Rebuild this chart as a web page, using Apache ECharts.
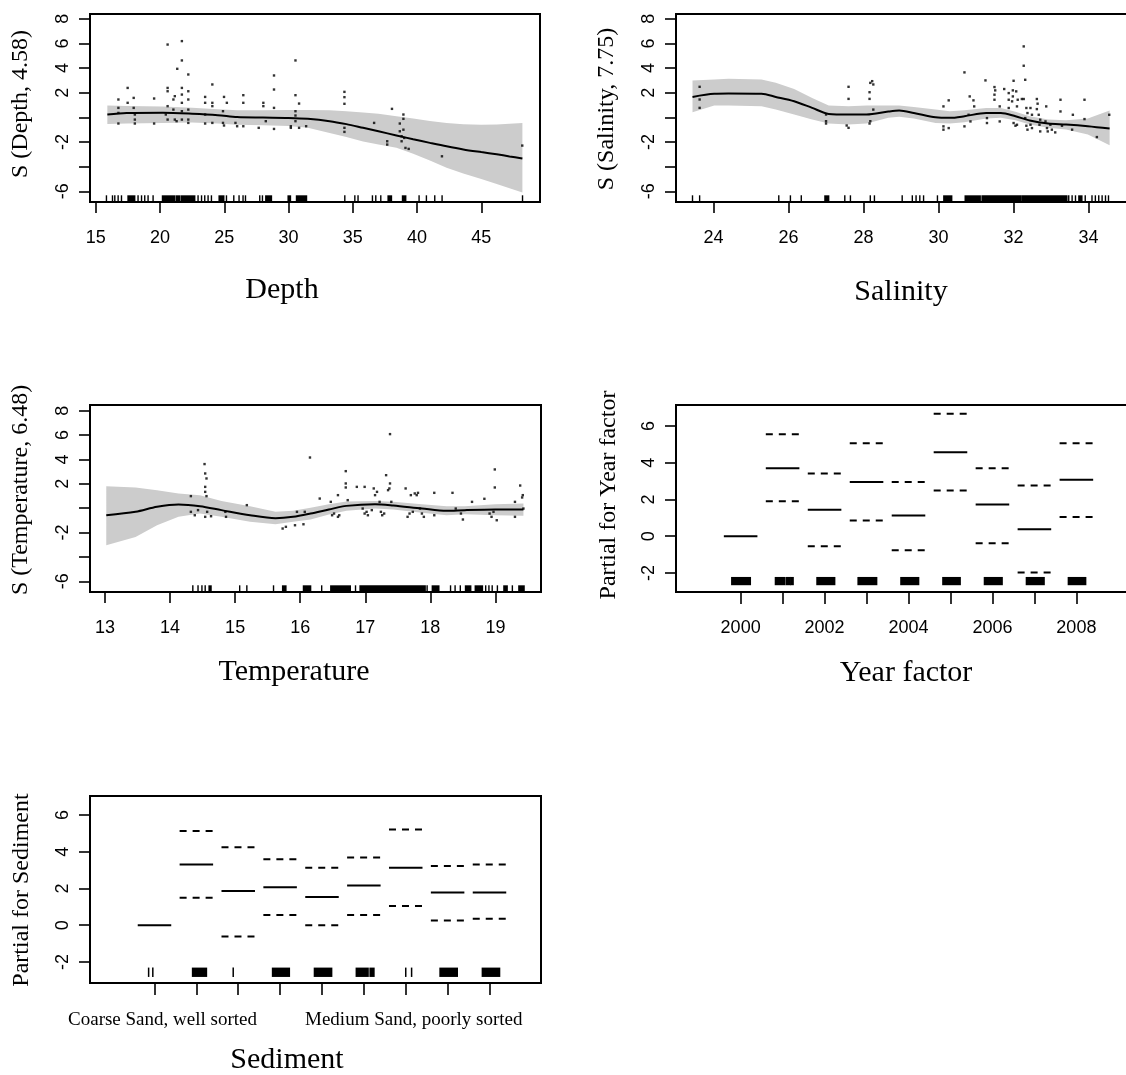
<!DOCTYPE html>
<html><head><meta charset="utf-8">
<script src="https://cdn.jsdelivr.net/npm/echarts@6/dist/echarts.min.js"></script>
<style>html,body{margin:0;padding:0;background:#fff}#c{width:1126px;height:1075px}</style>
</head><body><div id="c"></div>
<script>
// ---------------- DATA ----------------
// Depth smooth
const depthX   = [15.9, 17.4, 20.2, 22.5, 24.5, 26.0, 28.0, 30.0, 31.5, 33.2, 34.5, 35.8, 37.0, 38.4, 39.7, 41.0, 42.3, 43.6, 45.0, 46.2, 47.2, 48.2];
const depthFit = [0.23, 0.36, 0.38, 0.30, 0.18, 0.02, -0.02, -0.05, -0.12, -0.31, -0.55, -0.85, -1.13, -1.47, -1.78, -2.07, -2.35, -2.6, -2.82, -3.0, -3.17, -3.34];
const depthHi  = [0.96, 0.92, 0.88, 0.78, 0.65, 0.58, 0.58, 0.6, 0.6, 0.58, 0.5, 0.4, 0.3, 0.1, -0.1, -0.3, -0.45, -0.55, -0.6, -0.58, -0.52, -0.45];
const depthLo  = [-0.53, -0.5, -0.45, -0.42, -0.5, -0.6, -0.65, -0.7, -0.85, -1.26, -1.6, -1.95, -2.2, -2.47, -2.95, -3.5, -4.1, -4.55, -5.0, -5.4, -5.75, -6.1];
const depthPoints = [[16.76,1.45],[16.76,0.77],[16.76,0.36],[16.76,-0.5],[17.48,2.39],[17.48,1.18],[17.95,1.58],[17.95,0.77],[18.04,0.23],[18.04,-0.18],[18.04,-0.5],
 [19.54,1.53],[19.54,-0.5],[20.59,5.91],[20.59,2.39],[20.59,2.12],[20.59,0.91],[20.45,0.23],[20.59,-0.18],
 [21.04,1.45],[21.15,1.72],[21.04,0.63],[21.15,-0.18],[21.29,-0.31],[21.70,6.19],[21.70,4.62],[21.70,2.39],[21.70,1.85],[21.70,1.18],[21.70,0.50],[21.70,-0.18],
 [21.34,3.94],[22.20,3.48],[22.20,2.12],[22.20,1.45],[22.20,0.63],[22.20,-0.18],[22.20,-0.45],
 [23.51,1.66],[23.51,1.18],[23.51,0.23],[23.51,-0.5],[24.07,2.67],[24.07,1.18],[24.07,0.91],[24.07,-0.45],
 [24.98,1.66],[24.9,0.5],[24.9,-0.45],[24.98,-0.66],[25.2,1.18],[25.87,-0.45],[26.0,-0.72],
 [26.48,1.8],[26.48,1.18],[26.48,-0.72],[27.68,-0.85],[28.04,1.18],[28.04,0.91],[28.23,-0.31],
 [28.87,3.40],[28.87,2.26],[28.87,0.77],[28.87,-0.94],[30.54,4.62],[30.54,1.8],[30.54,0.5],[30.54,0.15],[30.54,-0.31],[30.18,-0.72],[30.18,-0.85],
 [30.82,1.12],[30.82,-0.85],[31.37,-0.72],[34.35,2.07],[34.35,1.64],[34.35,1.10],[34.35,-0.85],[34.35,-1.18],
 [36.66,-0.45],[38.05,0.69],[37.68,-1.94],[37.68,-2.21],[38.66,-0.5],[38.66,-1.13],[38.8,-1.53],[38.8,-1.94],
 [38.94,0.23],[38.94,-0.12],[38.94,-1.0],[39.0,-1.67],[39.1,-2.48],[39.35,-2.56],[41.94,-3.16],[48.19,-2.29]];
const depthRug = [[15.83,15.83],[16.30,16.30],[16.48,16.48],[16.74,16.74],[17.0,17.0],[17.51,18.03],[18.29,18.29],[18.56,18.56],[18.81,18.81],[19.07,19.07],[19.46,19.46],[20.19,21.15],[21.28,21.54],[21.67,22.70],[22.96,22.96],[23.23,23.23],[23.48,23.48],[23.74,23.74],[24.0,24.0],[24.6,24.96],[25.17,25.17],[25.74,25.74],[26.15,26.15],[26.46,26.46],[26.65,26.65],[27.76,27.76],[27.97,27.97],[28.23,28.67],[29.97,30.15],[30.62,31.4],[34.38,34.38],[35.16,35.16],[35.41,35.41],[36.53,36.53],[36.79,36.79],[37.18,37.18],[37.75,38.01],[38.87,39.12],[40.16,40.16],[40.73,40.73],[41.38,41.38],[41.95,41.95],[48.21,48.21]];

// Salinity smooth
const salX   = [23.44, 24.02, 24.4, 25.28, 25.66, 26.15, 26.63, 27.07, 27.6, 28.08, 28.66, 28.95, 29.34, 29.92, 30.3, 30.69, 31.27, 31.66, 32.05, 32.43, 32.92, 33.4, 33.98, 34.56];
const salFit = [1.66, 1.91, 1.93, 1.91, 1.66, 1.31, 0.77, 0.28, 0.23, 0.23, 0.47, 0.55, 0.36, 0.01, -0.04, 0.09, 0.36, 0.36, 0.09, -0.26, -0.5, -0.58, -0.72, -0.91];
const salHi  = [2.99, 3.07, 3.13, 3.07, 2.80, 2.31, 1.58, 0.96, 0.91, 0.96, 0.96, 0.96, 0.85, 0.63, 0.50, 0.58, 0.77, 0.77, 0.45, 0.09, -0.18, -0.23, -0.1, 0.55];
const salLo  = [0.42, 0.96, 0.96, 0.91, 0.63, 0.23, -0.18, -0.5, -0.58, -0.5, -0.04, 0.04, -0.1, -0.45, -0.5, -0.39, -0.1, -0.04, -0.23, -0.58, -0.85, -0.99, -1.4, -2.26];
const salPoints = [[23.63,2.48],[23.63,1.45],[23.63,0.77],[27.0,0.23],[27.0,-0.31],[27.0,-0.5],
 [27.6,2.48],[27.6,1.5],[27.55,-0.66],[27.6,-0.85],[28.16,2.04],[28.16,1.5],[28.18,2.8],[28.23,2.94],[28.26,2.67],[28.18,-0.31],[28.16,-0.5],[28.26,0.63],
 [30.13,0.89],[30.27,1.38],[30.13,-0.73],[30.13,-1.0],[30.27,-0.87],[30.69,3.65],[30.69,-0.73],[30.80,0.21],[30.83,1.70],[30.93,1.38],[30.95,0.89],[30.85,-0.33],
 [31.25,3.0],[31.29,-0.06],[31.29,-0.46],[31.49,2.46],[31.51,2.19],[31.49,1.84],[31.49,1.43],[31.63,0.89],[31.63,-0.33],
 [31.75,2.30],[31.87,1.97],[31.87,1.43],[31.87,0.76],[32.0,2.97],[31.98,2.19],[31.98,1.70],[31.96,1.30],
 [32.07,2.11],[32.11,1.43],[32.09,0.89],[32.0,-0.46],[32.09,-0.60],[32.05,-0.68],
 [32.27,5.76],[32.27,4.19],[32.31,3.05],[32.22,1.49],[32.27,1.49],[32.34,0.76],[32.37,0.35],[32.31,-0.06],[32.34,-0.68],[32.37,-1.0],
 [32.45,0.76],[32.49,0.21],[32.45,-0.60],[32.49,-0.87],[32.62,1.49],[32.64,1.11],[32.62,0.67],[32.67,0.21],[32.71,-0.19],[32.69,-0.60],[32.71,-1.14],
 [32.87,0.89],[32.85,-0.33],[32.89,-0.87],[32.91,-1.14],[32.98,-0.60],[33.02,-1.0],[33.11,-1.22],
 [33.25,1.43],[33.25,0.48],[33.29,-0.68],[33.58,0.21],[33.56,-1.0],[33.89,1.43],[33.89,-0.14],[34.22,-1.60],[34.55,0.21]];
const salRug = [[23.44,23.44],[23.63,23.63],[25.74,25.74],[26.05,26.05],[26.34,26.34],[26.97,27.07],[27.5,27.5],[27.65,27.65],[28.18,28.18],[28.29,28.29],[29.03,29.03],[29.3,29.3],[29.4,29.4],[29.5,29.5],[29.6,29.6],[29.97,29.97],[30.14,30.35],[30.71,31.11],[31.16,32.18],[32.22,33.42],[33.47,33.47],[33.56,33.56],[33.65,33.65],[33.74,33.82],[33.91,33.91],[34.09,34.09],[34.18,34.18],[34.27,34.27],[34.36,34.36],[34.45,34.45],[34.53,34.53]];

// Temperature smooth
const tempX   = [13.02, 13.47, 13.8, 14.13, 14.46, 14.79, 15.23, 15.62, 15.89, 16.16, 16.44, 16.71, 17.15, 17.43, 17.87, 18.25, 18.53, 19.0, 19.43];
const tempFit = [-0.58, -0.30, 0.11, 0.30, 0.16, -0.16, -0.58, -0.82, -0.71, -0.44, -0.11, 0.19, 0.33, 0.22, -0.03, -0.22, -0.16, -0.11, -0.11];
const tempHi  = [1.81, 1.70, 1.48, 1.21, 1.07, 0.60, 0.16, -0.30, -0.22, 0.03, 0.33, 0.55, 0.58, 0.52, 0.33, 0.16, 0.16, 0.33, 0.38];
const tempLo  = [-3.04, -2.36, -1.40, -0.71, -0.44, -0.71, -1.12, -1.32, -1.12, -0.93, -0.52, -0.22, -0.03, -0.11, -0.38, -0.58, -0.49, -0.58, -0.63];
const tempPoints = [[14.32,0.99],[14.32,-0.30],[14.38,-0.58],[14.43,-0.16],[14.53,3.62],[14.54,2.85],[14.56,2.44],[14.54,1.75],[14.54,1.34],[14.56,0.99],
 [14.57,-0.30],[14.63,-0.66],[14.54,-0.71],[14.85,-0.30],[14.86,-0.71],[15.18,0.25],
 [15.73,-1.67],[15.78,-1.53],[15.92,-1.40],[15.95,-0.30],[16.05,-1.32],[16.07,-0.30],[16.15,4.16],[16.30,0.79],
 [16.47,0.52],[16.49,-0.58],[16.52,-0.44],[16.58,1.07],[16.58,-0.71],[16.60,-0.58],[16.70,3.04],[16.70,2.03],[16.70,1.70],[16.73,0.66],
 [16.87,1.75],[16.99,1.75],[16.96,-0.03],[16.99,-0.44],[17.02,-0.30],[17.04,-0.58],[17.10,-0.16],
 [17.13,1.62],[17.15,1.07],[17.18,1.34],[17.22,0.52],[17.24,-0.30],[17.26,-0.58],[17.29,-0.44],
 [17.32,2.71],[17.35,1.48],[17.37,1.62],[17.38,2.03],[17.38,6.08],[17.40,0.52],
 [17.62,1.62],[17.65,-0.71],[17.68,-0.44],[17.70,1.07],[17.73,-0.30],[17.76,1.21],[17.79,1.07],[17.81,1.26],[17.84,-0.03],[17.87,-0.44],[17.90,-0.71],
 [18.06,1.26],[18.06,-0.58],[18.34,1.26],[18.39,-0.03],[18.47,-0.44],[18.50,-0.93],[18.64,0.52],[18.83,0.77],
 [18.91,-0.44],[18.94,-0.71],[18.97,-0.30],[19.02,-0.99],[18.99,3.18],[18.99,1.70],
 [19.30,0.52],[19.38,1.86],[19.41,0.88],[19.42,1.07],[19.43,-0.03],[19.30,-0.71]];
const tempRug = [[14.35,14.35],[14.43,14.43],[14.49,14.49],[14.54,14.54],[14.6,14.63],[15.07,15.07],[15.18,15.18],[15.59,15.59],[15.73,15.78],[16.05,16.16],[16.33,16.33],[16.47,16.77],[16.85,16.85],[16.92,17.92],[17.95,17.95],[18.03,18.13],[18.31,18.31],[18.38,18.38],[18.46,18.46],[18.54,18.62],[18.69,18.80],[18.85,18.85],[18.90,18.90],[18.95,18.95],[19.03,19.03],[19.13,19.18],[19.26,19.26],[19.36,19.44]];

// Year factor
const years     = [2000, 2001, 2002, 2003, 2004, 2005, 2006, 2007, 2008];
const yearFit   = [0, 3.71, 1.44, 2.96, 1.13, 4.58, 1.73, 0.38, 3.07];
const yearUpper = [null, 5.55, 3.42, 5.07, 2.95, 6.67, 3.71, 2.76, 5.07];
const yearLower = [null, 1.91, -0.55, 0.85, -0.76, 2.49, -0.38, -1.98, 1.05];
const yearRug   = [[1999.79,2000.23],[2000.83,2001.05],[2001.09,2001.18],[2001.2,2001.25],[2001.82,2002.24],[2002.8,2003.24],[2003.82,2004.24],[2004.82,2005.23],[2005.81,2006.23],[2006.81,2007.23],[2007.81,2008.22]];

// Sediment factor (level names not legible in the picture are left blank)
const sedimentLevels = ['Coarse Sand, well sorted', '', '', '', '', '', 'Medium Sand, poorly sorted', '', ''];
const sedFit   = [0, 3.31, 1.87, 2.07, 1.53, 2.16, 3.13, 1.78, 1.78];
const sedUpper = [null, 5.13, 4.25, 3.6, 3.13, 3.69, 5.22, 3.22, 3.31];
const sedLower = [null, 1.49, -0.62, 0.56, 0, 0.56, 1.04, 0.25, 0.35];
const sedRug   = [[0.86,0.86],[0.96,0.96],[1.91,2.24],[2.88,2.88],[3.82,4.22],[4.82,5.23],[5.82,6.1],[6.15,6.24],[7.0,7.0],[7.14,7.14],[7.82,8.23],[8.83,9.24]];

// Tick labels
const depthTicks = [15, 20, 25, 30, 35, 40, 45];
const salTicks   = [24, 26, 28, 30, 32, 34];
const tempTicks  = [13, 14, 15, 16, 17, 18, 19];
const yearLabels = [2000, 2002, 2004, 2006, 2008];
const sedLabelLevels = [1, 7];
const smoothYTicks  = [-6, -4, -2, 0, 2, 4, 6, 8];
const smoothYLabels = [-6, -2, 2, 4, 6, 8];
const factorYTicks  = [-2, 0, 2, 4, 6];

// ---------------- LAYOUT ----------------
const SANS = 'Liberation Sans, Arial, sans-serif';
const SERIF = 'Liberation Serif, Times New Roman, serif';
const panels = [
  {grid:{left:90, top:14, width:450, height:188}, x:[14.55,49.57], y:[-6.87,8.39]},
  {grid:{left:676, top:14, width:452, height:188}, x:[23.0,35.05], y:[-6.87,8.39]},
  {grid:{left:90, top:405, width:451, height:187}, x:[12.77,19.70], y:[-6.88,8.47]},
  {grid:{left:676, top:405, width:452, height:187}, x:[1998.46,2009.23], y:[-3.04,7.15]},
  {grid:{left:90, top:796, width:451, height:187}, x:[-0.54,10.23], y:[-3.15,7.04]}
];
const xTickVals = [depthTicks, salTicks, tempTicks, years, years.map((y,i)=>i+1)];
const xLabelVals = [depthTicks, salTicks, tempTicks, yearLabels, sedLabelLevels];
const yTickVals = [smoothYTicks, smoothYTicks, smoothYTicks, factorYTicks, factorYTicks];
const yLabelVals = [smoothYLabels, smoothYLabels, smoothYLabels, factorYTicks, factorYTicks];

const grids = panels.map(p => Object.assign({show:true, borderColor:'#000', borderWidth:2, backgroundColor:'transparent', outerBoundsMode:'none', containLabel:false}, p.grid));

const xAxes = panels.map((p,i) => ({
  type:'value', gridIndex:i, min:p.x[0], max:p.x[1],
  axisLine:{show:true, onZero:false, lineStyle:{color:'#000', width:2}},
  axisTick:{show:true, inside:false, length: i >= 3 ? 12 : 11, customValues:xTickVals[i], lineStyle:{color:'#000', width:1.6}},
  axisLabel:{show:true, customValues:xLabelVals[i], margin: i===4 ? 28 : 27,
    color:'#000', fontSize: i===4 ? 19 : 18, fontFamily: i===4 ? SERIF : SANS,
    padding: i===4 ? [0,0,0,16] : 0,
    formatter: i===4 ? (v => sedimentLevels[Math.round(v)-1]) : (v => String(v))},
  splitLine:{show:false}
}));
const yAxes = panels.map((p,i) => ({
  type:'value', gridIndex:i, min:p.y[0], max:p.y[1],
  axisLine:{show:true, onZero:false, lineStyle:{color:'#000', width:2}},
  axisTick:{show:true, inside:false, length:11, customValues:yTickVals[i], lineStyle:{color:'#000', width:1.6}},
  axisLabel:{show:true, customValues:yLabelVals[i], rotate:90, margin:18, color:'#000', fontSize:18, fontFamily:SANS,
    formatter: v => String(v)},
  splitLine:{show:false}
}));

// ---------------- SERIES BUILDERS ----------------
function bandSeries(idx, xs, lo, hi) {
  return {type:'custom', xAxisIndex:idx, yAxisIndex:idx, data:[[xs[0], lo[0]]], silent:true, animation:false, z:1,
    renderItem: function(params, api) {
      const pts = [];
      for (let i = 0; i < xs.length; i++) pts.push(api.coord([xs[i], hi[i]]));
      for (let i = xs.length - 1; i >= 0; i--) pts.push(api.coord([xs[i], lo[i]]));
      return {type:'polygon', shape:{points:pts}, style:{fill:'#cccccc'}};
    }};
}
function fitSeries(idx, xs, ys) {
  return {type:'line', xAxisIndex:idx, yAxisIndex:idx, data:xs.map((x,i)=>[x, ys[i]]), showSymbol:false, smooth:0.3,
    lineStyle:{color:'#000', width:2}, silent:true, animation:false, z:3};
}
function pointSeries(idx, pts) {
  return {type:'scatter', xAxisIndex:idx, yAxisIndex:idx, data:pts, symbol:'rect', symbolSize:2.4,
    itemStyle:{color:'#000'}, silent:true, animation:false, z:4};
}
function rugSeries(idx, ranges, yMin) {
  return {type:'custom', xAxisIndex:idx, yAxisIndex:idx, data:ranges, silent:true, animation:false, z:4,
    renderItem: function(params, api) {
      const a = api.coord([api.value(0), yMin]);
      const b = api.coord([api.value(1), yMin]);
      const w = Math.max(1.4, b[0] - a[0] + 1.4);
      return {type:'rect', shape:{x:a[0]-0.7, y:a[1]-6.7, width:w, height:6.7}, style:{fill:'#000'}};
    }};
}
function factorRugSeries(idx, ranges, yLo, yHi) {
  return {type:'custom', xAxisIndex:idx, yAxisIndex:idx, data:ranges, silent:true, animation:false, z:4,
    renderItem: function(params, api) {
      const a = api.coord([api.value(0), yHi]);
      const b = api.coord([api.value(1), yLo]);
      const w = Math.max(1.5, b[0] - a[0] + 1.5);
      return {type:'rect', shape:{x:a[0]-0.75, y:a[1], width:w, height:b[1]-a[1]}, style:{fill:'#000'}};
    }};
}
function segmentSeries(idx, positions, fit, upper, lower) {
  const rows = [];
  positions.forEach((p,i) => {
    rows.push([p, fit[i], 0]);
    if (upper[i] !== null) rows.push([p, upper[i], 1]);
    if (lower[i] !== null) rows.push([p, lower[i], 1]);
  });
  return {type:'custom', xAxisIndex:idx, yAxisIndex:idx, data:rows, silent:true, animation:false, z:3,
    renderItem: function(params, api) {
      const p1 = api.coord([api.value(0) - 0.4, api.value(1)]);
      const p2 = api.coord([api.value(0) + 0.4, api.value(1)]);
      const dashed = api.value(2) === 1;
      return {type:'line', shape:{x1:p1[0], y1:p1[1], x2:p2[0], y2:p2[1]},
        style:{stroke:'#000', lineWidth:2, lineDash: dashed ? [7,6] : null}};
    }};
}

const series = [
  bandSeries(0, depthX, depthLo, depthHi), fitSeries(0, depthX, depthFit), pointSeries(0, depthPoints), rugSeries(0, depthRug, panels[0].y[0]),
  bandSeries(1, salX, salLo, salHi), fitSeries(1, salX, salFit), pointSeries(1, salPoints), rugSeries(1, salRug, panels[1].y[0]),
  bandSeries(2, tempX, tempLo, tempHi), fitSeries(2, tempX, tempFit), pointSeries(2, tempPoints), rugSeries(2, tempRug, panels[2].y[0]),
  segmentSeries(3, years, yearFit, yearUpper, yearLower), factorRugSeries(3, yearRug, -2.67, -2.22),
  segmentSeries(4, sedimentLevels.map((n,i)=>i+1), sedFit, sedUpper, sedLower), factorRugSeries(4, sedRug, -2.82, -2.31)
];

// ---------------- AXIS TITLES ----------------
const xTitles = [['Depth',282,290],['Salinity',901,292],['Temperature',294,672],['Year factor',906,673],['Sediment',287,1060]];
const yTitles = [['S (Depth, 4.58)',21,104],['S (Salinity, 7.75)',607,109],['S (Temperature, 6.48)',21,490],['Partial for Year factor',609,495],['Partial for Sediment',22,890]];
const graphics = [];
xTitles.forEach(t => graphics.push({type:'text', x:t[1], y:t[2], silent:true,
  style:{text:t[0], fontFamily:SERIF, fontSize:30, fill:'#000', align:'center', verticalAlign:'middle'}}));
yTitles.forEach(t => graphics.push({type:'text', x:t[1], y:t[2], rotation:Math.PI/2, silent:true,
  style:{text:t[0], fontFamily:SERIF, fontSize:24, fill:'#000', align:'center', verticalAlign:'middle'}}));

const chart = echarts.init(document.getElementById('c'), null, {renderer:'canvas'});
chart.setOption({
  backgroundColor:'#ffffff',
  animation:false,
  grid:grids, xAxis:xAxes, yAxis:yAxes, series:series,
  graphic:{elements:graphics}
});
</script>
</body></html>
